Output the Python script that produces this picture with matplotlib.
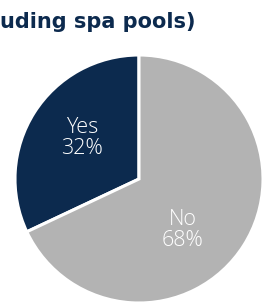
import matplotlib
matplotlib.use('Agg')
import matplotlib.pyplot as plt

# pool ownership answers
labels = ['Yes', 'No']
shares = [32, 68]
colours = ['#0c2a4e', '#b3b3b3']
title = 'uding spa pools)'

W, H = 273, 304
fig = plt.figure(figsize=(W / 100, H / 100), dpi=100)

# pie circle: centre (139, 179) px from top, radius 124 px
cx, cy, r = 139, 179, 124
ax = fig.add_axes([(cx - r) / W, (H - cy - r) / H, 2 * r / W, 2 * r / H])
ax.pie(shares, colors=colours, startangle=90, counterclock=True, radius=1,
       wedgeprops=dict(edgecolor='white', linewidth=2.2))
ax.set_xlim(-1, 1)
ax.set_ylim(-1, 1)
ax.axis('off')

# labels inside the slices
lab_kw = dict(color='white', ha='center', va='center', fontsize=15.5,
              family='Open Sans', fontweight='light', linespacing=1.0)
ax.text(-0.46, 0.33, f'{labels[0]}\n{shares[0]}%', **lab_kw)
ax.text(0.35, -0.41, f'{labels[1]}\n{shares[1]}%', **lab_kw)

fig.text(0.5 / W, (H - 28) / H, title, color='#0c2a4e', fontsize=15,
         fontweight='bold', family='DejaVu Sans', ha='left', va='baseline')

fig.savefig('out.png', dpi=100)
